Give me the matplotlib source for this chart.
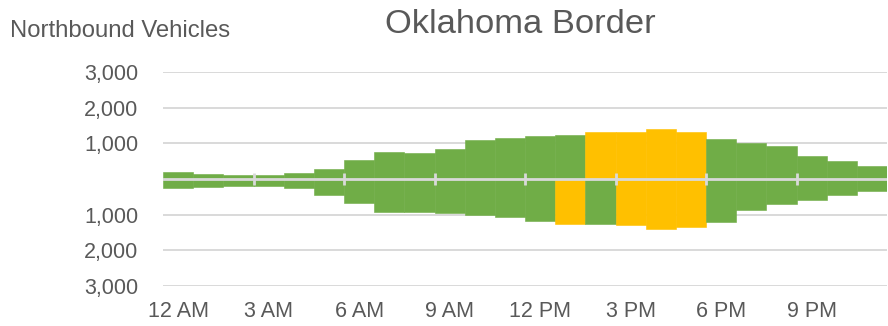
import numpy as np
import matplotlib
matplotlib.use("Agg")
import matplotlib.pyplot as plt
from matplotlib.ticker import FuncFormatter

plt.rcParams['font.family'] = ['Liberation Sans', 'DejaVu Sans']

# Hourly vehicle counts at the Oklahoma border crossing
hours = np.arange(24)
northbound = [190, 150, 120, 120, 180, 290, 540, 750, 730, 850, 1080, 1150,
              1200, 1240, 1320, 1320, 1390, 1320, 1120, 1000, 910, 630, 500, 350]
southbound = [250, 230, 200, 210, 260, 440, 670, 930, 920, 950, 1020, 1070,
              1190, 1250, 1250, 1280, 1390, 1340, 1200, 870, 700, 580, 460, 340]

# Hours flagged as peak in each direction
north_peak = [14, 15, 16, 17]
south_peak = [13, 15, 16, 17]

tick_hours = [0, 3, 6, 9, 12, 15, 18, 21]
tick_labels = ['12 AM', '3 AM', '6 AM', '9 AM', '12 PM', '3 PM', '6 PM', '9 PM']
y_ticks = [-3000, -2000, -1000, 0, 1000, 2000, 3000]

GREEN = '#70AD47'
YELLOW = '#FFC000'
GRID = '#D9D9D9'
TEXT = '#595959'

north_colors = [YELLOW if h in north_peak else GREEN for h in hours]
south_colors = [YELLOW if h in south_peak else GREEN for h in hours]

fig = plt.figure(figsize=(8.88, 3.26), dpi=100)
ax = fig.add_axes([0.1836, 0.1227, 0.8154, 0.6567])

ax.bar(hours, northbound, width=1.0, color=north_colors,
       edgecolor=north_colors, linewidth=0.4, zorder=2)
ax.bar(hours, -np.asarray(southbound), width=1.0, color=south_colors,
       edgecolor=south_colors, linewidth=0.4, zorder=2)

ax.set_xlim(-0.5, 23.5)
ax.set_ylim(-3000, 3000)

# Horizontal gridlines (excluding zero, which gets its own line on top)
for y in y_ticks:
    if y != 0:
        ax.axhline(y, color=GRID, lw=1.4, zorder=1)

# Zero line with small tick marks at every third hour boundary
ax.axhline(0, color=GRID, lw=2.0, zorder=3)
boundaries = np.asarray(tick_hours[1:]) - 0.5
ax.vlines(boundaries, -160, 160, color=GRID, lw=2.0, zorder=3)

ax.set_xticks(tick_hours)
ax.set_xticklabels(tick_labels)
ax.set_yticks(y_ticks)
ax.yaxis.set_major_formatter(
    FuncFormatter(lambda v, p: '' if v == 0 else f'{abs(int(v)):,}'))

ax.tick_params(axis='both', length=0, labelsize=15.5, labelcolor=TEXT)
ax.tick_params(axis='y', pad=18)
ax.tick_params(axis='x', pad=11)
for s in ax.spines.values():
    s.set_visible(False)

fig.text(0.011, 0.885, 'Northbound Vehicles', fontsize=17.2, color=TEXT,
         ha='left', va='baseline')
fig.text(0.586, 0.898, 'Oklahoma Border', fontsize=24.8, color=TEXT,
         ha='center', va='baseline')

fig.savefig('out.png', dpi=100)
